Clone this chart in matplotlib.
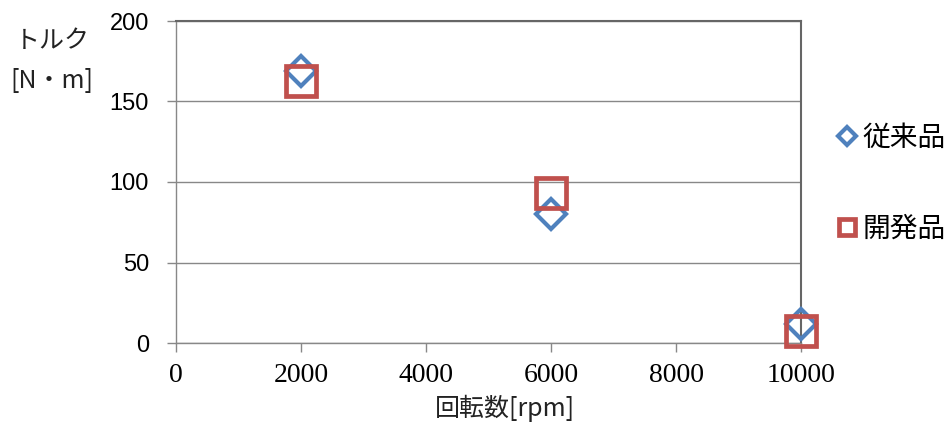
import matplotlib.pyplot as plt
from matplotlib.lines import Line2D

# data
rpm = [2000, 6000, 10000]
conventional = [169, 80, 12]   # 従来品
developed = [163, 93, 7.5]     # 開発品
series_names = ['従来品', '開発品']
x_ticks = [0, 2000, 4000, 6000, 8000, 10000]
y_ticks = [0, 50, 100, 150, 200]

BLUE = '#4F81BD'
RED = '#C0504D'
GRID = '#888888'
JP = ['Noto Sans CJK JP', 'DejaVu Sans']


def main():
    fig = plt.figure(figsize=(9.51, 4.34), dpi=100)
    ax = fig.add_axes([176 / 951, 1 - 343 / 434, 625 / 951, 322 / 434])

    ax.plot(rpm, conventional, linestyle='none', marker='D', ms=15,
            mew=3.0, mec=BLUE, mfc='none', clip_on=False, zorder=3)
    ax.plot(rpm, developed, linestyle='none', marker='s', ms=21,
            mew=3.4, mec=RED, mfc='none', clip_on=False, zorder=4)

    ax.set_xlim(0, 10000)
    ax.set_ylim(0, 200)
    ax.set_xticks(x_ticks)
    ax.set_yticks(y_ticks)
    ax.set_xticklabels([str(v) for v in x_ticks], family='Liberation Serif',
                       fontsize=20)
    ax.set_yticklabels([str(v) for v in y_ticks], family='Liberation Sans',
                       fontsize=17)
    ax.tick_params(axis='x', direction='out', length=6.5, width=1,
                   color=GRID, pad=8)
    ax.tick_params(axis='y', direction='out', length=6.5, width=1,
                   color=GRID, pad=13)

    ax.yaxis.grid(True, color=GRID, linewidth=1)
    ax.set_axisbelow(True)
    for side in ['left', 'bottom']:
        ax.spines[side].set_color(GRID)
        ax.spines[side].set_linewidth(1)
    for side in ['top', 'right']:
        ax.spines[side].set_color('#666666')
        ax.spines[side].set_linewidth(1.5)

    fig.text(52 / 951, 1 - 61 / 434, 'トルク\n[N・m]', family=JP,
             fontsize=18, ha='center', va='center', linespacing=1.7,
             color='#222222')
    fig.text(505 / 951, 1 - 408 / 434, '回転数[rpm]', family=JP,
             fontsize=18, ha='center', va='center', color='#222222')

    handles = [
        Line2D([], [], linestyle='none', marker='D', ms=9, mew=3.0,
               mec=BLUE, mfc='none'),
        Line2D([], [], linestyle='none', marker='s', ms=12, mew=3.4,
               mec=RED, mfc='none'),
    ]
    fig.legend(handles, series_names, loc='center left',
               bbox_to_anchor=(836 / 951, 1 - 183 / 434),
               frameon=False, prop={'family': JP, 'size': 20},
               handlelength=0.8, handletextpad=0.15, borderpad=0,
               borderaxespad=0, labelspacing=2.2)

    fig.savefig('out.png', dpi=100)


if __name__ == '__main__':
    main()
